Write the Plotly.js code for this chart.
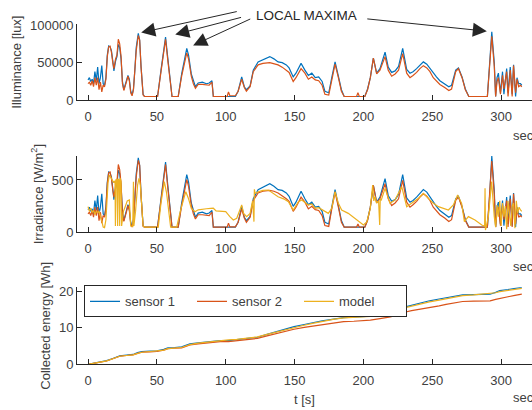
<!DOCTYPE html>
<html>
<head>
<meta charset="utf-8">
<script src="https://cdn.plot.ly/plotly-3.0.1.min.js"></script>
<style>html,body{margin:0;padding:0;background:#fff;}#chart{width:532px;height:410px;}</style>
</head>
<body>
<div id="chart"></div>
<script>
// ---- data ----
const tS = [0,1,2,3,4,5,6,7,8,9,10,11,12,13,14,15,16,17,18,18.8,20,21,22,23,24,25,26,27,28,29,30,31,32,33,34,35,36.5,37.5,38.5,40,41,50.5,53,56.3,58,60.5,61,65.5,68,71.7,73,75,76.5,78,80,83,86,88,90,91,101,102,103,107,109,111.6,113.5,115,117.7,120,123.5,127,132,135,138,141,144,146,149,151,154.7,157.5,160,162.5,165,167.5,170,172,174.8,177,179.4,181.8,184,186,195,196,197,201,203,205,207.2,209.6,212,215.7,218,220.5,223,225.5,228.5,231.4,233.8,236,238.6,241,243.5,246,248.3,250.7,253,255.5,259,262,264,267,269,271.6,274,276.5,290,291.5,293.2,295,296,297,298,299.5,301,302,304,305,306.6,308,309,310.5,311.5,312.7,314,315];
const illum1 = [27000,30000,25000,28000,22000,38000,26000,44000,22000,30000,46000,22000,20000,30000,60000,72000,71000,66000,52000,39000,52000,58000,74000,70000,55000,25000,14000,20000,27000,33000,28000,12000,7000,15000,40000,70000,89000,80000,45000,8000,5000,5000,40000,84000,55000,6000,5000,5000,35000,69000,60000,35000,25000,18000,23000,24000,22000,23000,26000,5000,5000,5000,5000,5000,12000,31000,18000,14000,19000,40000,51000,54000,58000,55000,51000,50000,47000,43000,31000,36000,49000,40000,33000,36000,30000,31000,25000,12000,10000,30000,51000,32000,14000,5000,5000,5000,5000,5000,15000,30000,56000,36000,42000,64000,44000,37000,39000,45000,69000,41000,36000,38000,42000,47000,51000,48000,42000,36000,31000,26000,22000,18000,20000,40000,43000,31000,15000,5000,5000,40000,91000,50000,5000,30000,36000,10000,38000,8000,42000,10000,44000,8000,47000,5000,30000,22000,22000,20000];
const illum2 = [22000,24000,20000,26000,18000,30000,20000,30000,14000,24000,11000,20000,18000,28000,58000,71000,72000,64000,50000,42000,55000,60000,81000,75000,58000,22000,13000,18000,25000,32000,26000,10000,6000,14000,38000,66000,86000,80000,44000,7000,5000,5000,38000,81000,52000,6000,5000,5000,32000,63000,55000,32000,22000,16000,21000,21000,20000,20000,24000,5000,5000,11000,6000,6000,12000,28000,17000,12000,18000,38000,47000,49000,50000,49000,47000,44000,40000,37000,25000,30000,42000,36000,28000,31000,27000,26000,20000,8000,7000,28000,48000,30000,12000,5000,5000,10000,5000,5000,14000,30000,56000,35000,40000,58000,40000,32000,35000,40000,62000,36000,30000,33000,37000,42000,46000,43000,38000,30000,26000,21000,17000,13000,15000,38000,42000,30000,14000,5000,5000,38000,85000,45000,5000,25000,30000,8000,33000,15000,38000,5000,40000,5000,46000,10000,28000,18000,20000,18000];
const irr1 = [216,240,200,224,176,304,208,352,176,240,368,176,160,240,480,576,568,528,416,312,416,464,592,560,440,200,112,160,216,264,224,96,56,120,320,560,712,640,360,64,50,50,320,672,440,52,50,50,280,552,480,280,200,144,184,192,176,184,208,50,50,50,50,50,96,248,144,112,152,320,408,432,464,440,408,400,376,344,248,288,392,320,264,288,240,248,200,96,80,240,408,256,112,50,50,50,50,50,120,240,448,288,336,512,352,296,312,360,552,328,288,304,336,376,408,384,336,288,248,208,176,144,160,320,344,248,120,50,50,320,728,400,50,240,288,80,304,64,336,80,352,64,376,50,240,176,176,160];
const irr2 = [176,192,160,208,144,240,160,240,112,192,88,160,144,224,464,568,576,512,400,336,440,480,648,600,464,176,104,144,200,256,208,80,50,112,304,528,688,640,352,56,50,50,304,648,416,52,50,50,256,504,440,256,176,128,168,168,160,160,192,50,50,88,52,52,96,224,136,96,144,304,376,392,400,392,376,352,320,296,200,240,336,288,224,248,216,208,160,64,56,224,384,240,96,50,50,80,50,50,112,240,448,280,320,464,320,256,280,320,496,288,240,264,296,336,368,344,304,240,208,168,136,104,120,304,336,240,112,50,50,304,680,360,50,200,240,64,264,120,304,50,320,50,368,80,224,144,160,144];

const tM = [0,1,2,3,4,5,6,7,8,9,10,11,12,13,14.5,15.5,17,18.5,19.6,19.9,20.2,21,21.5,21.8,22.5,23,23.3,24,24.4,25.7,27,28.5,30,31,32.5,33,33.3,34.5,36,37,38,39,40,41,51,53,55.4,57,59,60,64.4,67,71,73,75,77.7,80,83,86,89,91,93,96,100,103,105.5,108,110.4,111.6,113,115.2,117.7,119.5,120.5,120.8,121.3,123.7,127,131,134,138,142,145.5,149,152.8,155.2,157,160,162.5,165,167.5,170,174.5,177,179.4,181.8,184.2,189,194,198.7,200,202.4,205,206.7,207.5,208.4,209.5,211,211.8,212.2,213,215.7,219.3,222.9,227.8,231.4,235,240,243.5,247.1,250.8,254.4,258,261.7,265.3,268.4,271.3,273.3,276.2,281,285.9,288,288.3,288.6,290.7,293.1,295,296,297,298,299,300,301,302,303,304,305,306,307,308,309,310,311,312,313,314,315];
const irrModel = [245,200,230,190,210,170,200,190,200,160,110,50,45,120,470,548,520,480,490,60,500,505,60,510,500,60,520,490,60,200,245,300,309,60,55,484,60,200,450,516,450,250,60,50,50,280,484,380,150,50,50,200,388,320,229,197,215,222,225,228,230,205,200,197,150,118,134,229,261,181,150,181,300,102,411,372,388,400,404,380,340,320,293,213,293,309,290,261,270,229,235,213,181,230,388,277,213,181,134,86,70,100,229,452,300,340,280,300,70,320,309,420,277,309,436,245,277,325,372,325,277,245,229,213,261,356,277,102,150,118,70,60,420,22,150,484,150,50,260,150,300,60,280,150,250,30,300,180,60,250,280,40,300,180,240,213,200];

const tE = [0,5,13.5,18,23,28,32.7,36,39,45,50,55,58,63,68,71,74,80,86,92,96,102,108,113,118,123,130,140,149.6,157,164,170,173.6,179,185.6,193,200,205,212,219.6,225,229,235,242,248,255,260,266,272,280,292,296,299,305,310,315];
const energy1 = [0,0.35,1.0,1.6,2.3,2.5,2.7,3.2,3.5,3.6,3.7,4.1,4.5,4.6,4.8,5.2,5.6,5.9,6.2,6.4,6.5,6.5,6.7,6.9,7.1,7.4,8.2,9.3,10.3,10.9,11.5,11.9,12.1,12.5,12.8,12.9,13.0,13.2,13.8,14.4,15.0,15.6,16.2,16.8,17.4,17.9,18.2,18.5,19.0,19.1,19.2,19.7,20.2,20.5,20.8,21.1];
const energy2 = [0,0.3,0.9,1.5,2.2,2.4,2.6,3.0,3.3,3.4,3.5,3.9,4.3,4.4,4.5,4.9,5.3,5.6,5.9,6.1,6.2,6.2,6.4,6.6,6.8,7.1,7.8,8.8,9.6,10.1,10.5,10.8,11.0,11.4,11.7,11.8,11.9,12.1,12.5,13.0,13.6,14.2,14.7,15.1,15.5,16.0,16.4,16.8,17.2,17.3,17.4,17.8,18.1,18.5,18.9,19.2];
const energyModel = [0,0.3,0.95,1.5,2.2,2.4,2.6,3.0,3.3,3.5,3.6,3.9,4.3,4.4,4.6,5.0,5.4,5.8,6.1,6.4,6.5,6.7,6.8,7.0,7.2,7.5,8.2,9.2,10.1,10.7,11.3,11.8,12.0,12.4,12.7,12.9,13.0,13.1,13.7,14.3,14.9,15.4,16.0,16.6,17.1,17.6,17.9,18.3,18.8,19.0,19.3,19.6,19.9,20.2,20.5,20.8];

const seriesNames = ['sensor 1','sensor 2','model'];
const xTicks = [0,50,100,150,200,250,300];
const maximaT = [36.5,56.3,71.7,293.2];

// ---- styling ----
const C1 = '#0072BD', C2 = '#D95319', C3 = '#EDB120';
const FONT = 'Liberation Sans, Arial, Helvetica, sans-serif';
const TXT = '#404040';
const LW = 1.2;

function line(x, y, color, xa, ya, name, show) {
  return {x: x, y: y, type: 'scatter', mode: 'lines', name: name, showlegend: !!show,
    xaxis: xa, yaxis: ya, line: {color: color, width: LW}, hoverinfo: 'skip'};
}

const traces = [
  line(tS, illum1, C1, 'x', 'y', seriesNames[0], false),
  line(tS, illum2, C2, 'x', 'y', seriesNames[1], false),
  line(tS, irr1, C1, 'x2', 'y2', seriesNames[0], false),
  line(tS, irr2, C2, 'x2', 'y2', seriesNames[1], false),
  line(tM, irrModel, C3, 'x2', 'y2', seriesNames[2], false),
  line(tE, energy1, C1, 'x3', 'y3', seriesNames[0], true),
  line(tE, energy2, C2, 'x3', 'y3', seriesNames[1], true),
  line(tE, energyModel, C3, 'x3', 'y3', seriesNames[2], true)
];

function xa(anchor) {
  return {anchor: anchor, domain: [0, 1], range: [-8, 322.4], tickvals: xTicks,
    ticks: 'inside', ticklen: 5, tickcolor: '#262626', showline: true, linecolor: '#262626', linewidth: 1,
    showgrid: false, zeroline: false, tickfont: {family: FONT, size: 13, color: TXT}, automargin: false,
    ticklabelstandoff: 4};
}
function ya(anchor, domain, range, tickvals, title) {
  return {anchor: anchor, domain: domain, range: range, tickvals: tickvals, tickformat: 'd',
    ticks: 'inside', ticklen: 5, tickcolor: '#262626', showline: true, linecolor: '#262626', linewidth: 1,
    showgrid: false, zeroline: false, tickfont: {family: FONT, size: 13, color: TXT}, automargin: false,
    title: {text: title, font: {family: FONT, size: 13, color: TXT}, standoff: 5}};
}

const x3 = xa('y3');
x3.title = {text: 't [s]', font: {family: FONT, size: 13, color: TXT}, standoff: 8};

// arrows pointing at local maxima, heads located from data
const tailOffsets = [[100,-22],[77,-20],[65,-30],[-126,-13]];
const standoffs = [3,10,7,5];
const annotations = maximaT.map(function (tm, i) {
  const k = tS.indexOf(tm);
  return {x: tS[k], y: illum1[k], xref: 'x', yref: 'y', text: '', showarrow: true,
    ax: tailOffsets[i][0], ay: tailOffsets[i][1], arrowhead: 2, arrowsize: 2.8, arrowwidth: 1,
    arrowcolor: '#262626', standoff: standoffs[i]};
});
annotations.push({x: 0.5033, y: 0.9634, xref: 'paper', yref: 'paper', text: 'LOCAL MAXIMA', showarrow: false,
  font: {family: FONT, size: 13.5, color: '#262626'}, xanchor: 'center', yanchor: 'middle'});
[0.6707, 0.3496, 0.030].forEach(function (yy) {
  annotations.push({x: 0.954, y: yy, xref: 'paper', yref: 'paper', text: 'sec', showarrow: false,
    xanchor: 'left', yanchor: 'middle', font: {family: FONT, size: 13, color: TXT}});
});

const layout = {
  width: 532, height: 410,
  margin: {l: 77, r: 0, t: 0, b: 0},
  paper_bgcolor: '#fff', plot_bgcolor: '#fff',
  font: {family: FONT, size: 13, color: TXT},
  xaxis: xa('y'), xaxis2: xa('y2'), xaxis3: x3,
  yaxis: ya('x', [0.7554, 0.9415], [0, 101300], [0, 50000, 100000], 'Illuminance [lux]'),
  yaxis2: ya('x2', [0.4334, 0.6195], [0, 729], [0, 500], 'Irradiance [W/m<sup>2</sup>]'),
  yaxis3: ya('x3', [0.1115, 0.2993], [0, 21.1], [0, 10, 20], 'Collected energy [Wh]'),
  showlegend: true,
  legend: {orientation: 'h', x: 0.0154, y: 0.3040, xanchor: 'left', yanchor: 'top',
    bgcolor: '#fff', bordercolor: '#262626', borderwidth: 1,
    font: {family: FONT, size: 13, color: TXT}, entrywidth: 62, entrywidthmode: 'pixels',
    tracegroupgap: 0, itemwidth: 30},
  annotations: annotations
};

Plotly.newPlot('chart', traces, layout, {staticPlot: true, displayModeBar: false});
</script>
</body>
</html>
